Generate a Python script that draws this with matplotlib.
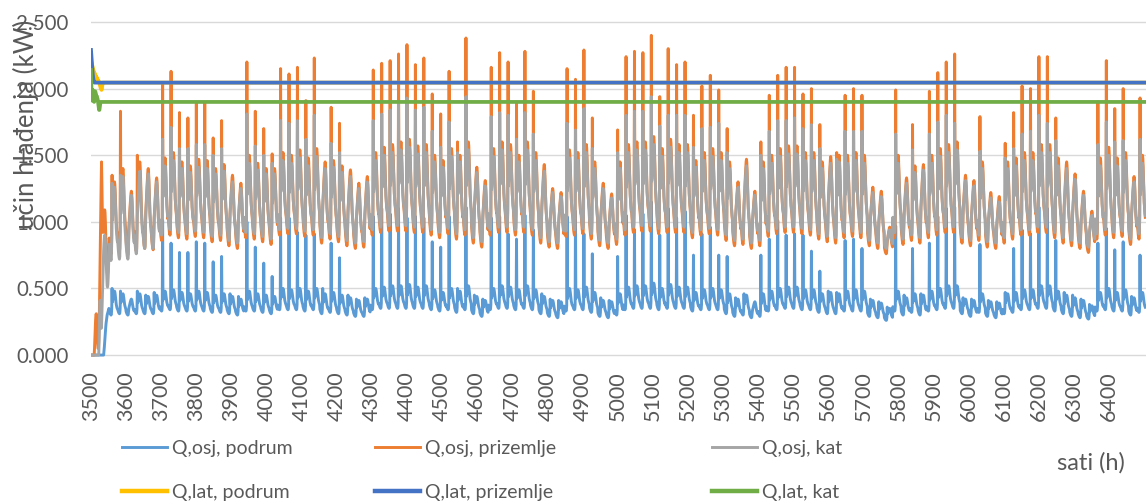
import matplotlib.pyplot as plt
import numpy as np

plt.rcParams['font.family'] = ['Lato', 'DejaVu Sans']

# hourly cooling load, starting at hour 3500 of the year
prvi_sat = 3500
sat_vrha = 8  # hour of day with the start-up peak

# start-up hours 3500-3551
pocetak_podrum = [0.0] * 37 + [0.03, 0.06, 0.10, 0.14, 0.18, 0.21, 0.24, 0.26,
                               0.28, 0.30, 0.31, 0.32, 0.33, 0.34, 0.35]
pocetak_prizemlje = [0.0] * 10 + [0.05, 0.12, 0.20, 0.26, 0.30, 0.31, 0.28, 0.20,
                                  0.12, 0.08, 0.05, 0.05, 0.10, 0.20, 0.35, 0.55,
                                  0.75, 0.95, 1.15, 1.30, 1.45, 1.30, 1.10, 0.95,
                                  0.92, 0.95, 1.00, 1.04, 1.07, 1.09, 1.07, 1.00,
                                  0.90, 0.80, 0.72, 0.66, 0.62, 0.60, 0.62, 0.66,
                                  0.72, 0.78]
pocetak_kat = [0.0] * 23 + [0.10, 0.25, 0.35, 0.41, 0.35, 0.25, 0.20, 0.22, 0.30,
                            0.40, 0.50, 0.60, 0.70, 0.78, 0.84, 0.88, 0.90, 0.89,
                            0.85, 0.78, 0.70, 0.62, 0.56, 0.52, 0.51, 0.53, 0.58,
                            0.66, 0.72]

# daily values from hour 3552 on (one value per day):
# vrh = daily maximum, dan = afternoon level, noc = night minimum
vrh_prizemlje = [
    1.35, 1.83, 1.23, 1.50, 1.40, 1.33, 2.03, 2.13, 1.82, 1.78, 1.89, 1.89, 1.63,
    1.76, 1.35, 1.29, 2.20, 1.83, 1.70, 1.51, 2.15, 2.11, 2.16, 1.91, 2.23, 1.45,
    1.86, 1.74, 1.39, 1.29, 1.34, 2.14, 2.19, 2.21, 2.26, 2.33, 2.18, 2.23, 1.96,
    1.81, 2.13, 1.60, 2.38, 1.41, 1.31, 2.16, 2.27, 2.20, 1.89, 2.28, 1.98, 1.43,
    1.25, 1.22, 2.15, 2.07, 2.29, 1.78, 1.29, 1.21, 1.69, 2.24, 2.28, 2.27, 2.40,
    1.94, 2.30, 2.18, 2.20, 1.80, 2.02, 2.10, 1.99, 1.70, 1.30, 1.47, 1.23, 1.60,
    1.95, 2.10, 2.16, 2.16, 1.96, 2.00, 1.73, 1.49, 1.52, 1.95, 2.00, 1.95, 1.26,
    1.23, 0.96, 1.99, 1.33, 1.73, 1.43, 1.98, 2.12, 2.20, 2.26, 1.35, 1.31, 1.79,
    1.22, 1.19, 1.59, 1.82, 2.02, 2.00, 2.24, 2.24, 1.78, 1.45, 1.36, 1.23, 1.08,
    1.90, 2.21, 1.85, 2.00, 1.34, 1.93]
dan_prizemlje = [
    1.30, 1.40, 1.25, 1.45, 1.40, 1.35, 1.48, 1.52, 1.45, 1.42, 1.47, 1.46, 1.40,
    1.43, 1.35, 1.30, 1.50, 1.44, 1.40, 1.40, 1.52, 1.50, 1.54, 1.48, 1.55, 1.45,
    1.46, 1.42, 1.39, 1.30, 1.34, 1.52, 1.56, 1.58, 1.60, 1.62, 1.57, 1.58, 1.50,
    1.46, 1.55, 1.50, 1.60, 1.41, 1.31, 1.55, 1.60, 1.58, 1.50, 1.60, 1.52, 1.43,
    1.25, 1.22, 1.54, 1.52, 1.58, 1.45, 1.29, 1.21, 1.45, 1.58, 1.60, 1.60, 1.64,
    1.55, 1.62, 1.58, 1.58, 1.46, 1.52, 1.55, 1.52, 1.45, 1.30, 1.47, 1.23, 1.45,
    1.50, 1.55, 1.57, 1.57, 1.52, 1.52, 1.45, 1.49, 1.50, 1.50, 1.52, 1.50, 1.26,
    1.23, 0.96, 1.50, 1.33, 1.42, 1.43, 1.50, 1.55, 1.58, 1.60, 1.35, 1.31, 1.45,
    1.22, 1.19, 1.45, 1.48, 1.52, 1.52, 1.58, 1.58, 1.48, 1.45, 1.36, 1.23, 1.08,
    1.48, 1.56, 1.48, 1.52, 1.34, 1.50]
noc_prizemlje = [
    0.76, 0.78, 0.75, 0.78, 0.80, 0.79, 0.86, 0.90, 0.88, 0.87, 0.89, 0.88, 0.85,
    0.86, 0.82, 0.80, 0.88, 0.87, 0.85, 0.83, 0.90, 0.91, 0.91, 0.89, 0.90, 0.84,
    0.87, 0.85, 0.82, 0.80, 0.81, 0.90, 0.92, 0.93, 0.93, 0.93, 0.92, 0.92, 0.90,
    0.88, 0.91, 0.87, 0.90, 0.84, 0.81, 0.90, 0.92, 0.92, 0.90, 0.92, 0.90, 0.84,
    0.81, 0.80, 0.89, 0.90, 0.91, 0.87, 0.82, 0.80, 0.83, 0.90, 0.92, 0.93, 0.93,
    0.91, 0.92, 0.92, 0.92, 0.88, 0.90, 0.91, 0.90, 0.86, 0.82, 0.83, 0.80, 0.82,
    0.89, 0.91, 0.92, 0.92, 0.91, 0.90, 0.87, 0.85, 0.84, 0.88, 0.89, 0.88, 0.82,
    0.80, 0.76, 0.88, 0.83, 0.86, 0.84, 0.88, 0.90, 0.92, 0.92, 0.84, 0.82, 0.86,
    0.81, 0.80, 0.84, 0.87, 0.90, 0.90, 0.92, 0.92, 0.88, 0.84, 0.82, 0.80, 0.77,
    0.87, 0.90, 0.88, 0.89, 0.83, 0.87]

vrh_kat = [
    1.29, 1.35, 1.20, 1.38, 1.36, 1.30, 1.62, 1.71, 1.55, 1.55, 1.58, 1.58, 1.50,
    1.55, 1.30, 1.25, 1.81, 1.57, 1.50, 1.44, 1.76, 1.74, 1.76, 1.62, 1.80, 1.40,
    1.59, 1.52, 1.34, 1.25, 1.30, 1.76, 1.81, 1.84, 1.90, 1.93, 1.84, 1.86, 1.68,
    1.56, 1.75, 1.52, 1.94, 1.37, 1.27, 1.79, 1.82, 1.80, 1.62, 1.82, 1.66, 1.38,
    1.22, 1.19, 1.74, 1.69, 1.85, 1.55, 1.25, 1.18, 1.52, 1.80, 1.83, 1.83, 1.94,
    1.72, 1.80, 1.80, 1.80, 1.56, 1.70, 1.71, 1.74, 1.52, 1.26, 1.42, 1.20, 1.50,
    1.68, 1.76, 1.76, 1.78, 1.70, 1.73, 1.55, 1.44, 1.47, 1.68, 1.68, 1.68, 1.22,
    1.19, 0.94, 1.66, 1.29, 1.54, 1.39, 1.66, 1.75, 1.80, 1.74, 1.31, 1.27, 1.53,
    1.18, 1.15, 1.48, 1.55, 1.66, 1.68, 1.80, 1.74, 1.61, 1.40, 1.32, 1.20, 1.05,
    1.58, 1.75, 1.60, 1.61, 1.30, 1.62]
dan_kat = [
    1.26, 1.34, 1.20, 1.38, 1.36, 1.30, 1.42, 1.46, 1.40, 1.37, 1.41, 1.40, 1.36,
    1.38, 1.30, 1.25, 1.44, 1.39, 1.36, 1.36, 1.46, 1.44, 1.48, 1.42, 1.49, 1.40,
    1.41, 1.37, 1.34, 1.25, 1.30, 1.46, 1.50, 1.52, 1.54, 1.56, 1.51, 1.52, 1.45,
    1.41, 1.49, 1.45, 1.54, 1.37, 1.27, 1.49, 1.54, 1.52, 1.45, 1.54, 1.46, 1.38,
    1.22, 1.19, 1.48, 1.46, 1.52, 1.40, 1.25, 1.18, 1.40, 1.52, 1.54, 1.54, 1.58,
    1.49, 1.56, 1.52, 1.52, 1.41, 1.46, 1.49, 1.46, 1.40, 1.26, 1.42, 1.20, 1.40,
    1.44, 1.49, 1.51, 1.51, 1.46, 1.46, 1.40, 1.44, 1.45, 1.44, 1.46, 1.44, 1.22,
    1.19, 0.94, 1.44, 1.29, 1.37, 1.39, 1.44, 1.49, 1.52, 1.54, 1.31, 1.27, 1.40,
    1.18, 1.15, 1.40, 1.42, 1.46, 1.46, 1.52, 1.52, 1.42, 1.40, 1.32, 1.20, 1.05,
    1.42, 1.50, 1.42, 1.46, 1.30, 1.44]
noc_kat = [
    0.71, 0.72, 0.72, 0.76, 0.80, 0.80, 0.90, 0.94, 0.92, 0.91, 0.93, 0.92, 0.89,
    0.90, 0.86, 0.84, 0.92, 0.91, 0.89, 0.87, 0.94, 0.95, 0.95, 0.93, 0.94, 0.88,
    0.91, 0.89, 0.86, 0.84, 0.85, 0.94, 0.96, 0.97, 0.97, 0.97, 0.96, 0.96, 0.94,
    0.92, 0.95, 0.91, 0.94, 0.88, 0.85, 0.94, 0.96, 0.96, 0.94, 0.96, 0.94, 0.88,
    0.85, 0.84, 0.93, 0.94, 0.95, 0.91, 0.86, 0.84, 0.87, 0.94, 0.96, 0.97, 0.97,
    0.95, 0.96, 0.96, 0.96, 0.92, 0.94, 0.95, 0.94, 0.90, 0.86, 0.87, 0.84, 0.86,
    0.93, 0.95, 0.96, 0.96, 0.95, 0.94, 0.91, 0.89, 0.88, 0.92, 0.93, 0.92, 0.86,
    0.84, 0.80, 0.92, 0.87, 0.90, 0.88, 0.92, 0.94, 0.96, 0.96, 0.88, 0.86, 0.90,
    0.85, 0.84, 0.88, 0.91, 0.94, 0.94, 0.96, 0.96, 0.92, 0.88, 0.86, 0.84, 0.81,
    0.91, 0.94, 0.92, 0.93, 0.87, 0.91]

vrh_podrum = [
    0.50, 0.48, 0.42, 0.48, 0.45, 0.47, 1.01, 0.84, 0.77, 0.77, 0.85, 0.84, 0.70,
    0.74, 0.46, 0.44, 1.00, 0.81, 0.69, 0.59, 1.03, 1.03, 0.92, 0.90, 0.91, 0.50,
    0.84, 0.73, 0.45, 0.42, 0.43, 1.04, 1.10, 1.06, 1.10, 1.03, 1.04, 1.03, 0.85,
    0.81, 1.04, 0.50, 1.11, 0.45, 0.42, 1.03, 1.04, 0.91, 0.87, 1.05, 0.94, 0.46,
    0.42, 0.41, 1.04, 1.08, 0.91, 0.76, 0.43, 0.41, 0.74, 1.05, 0.94, 1.06, 1.15,
    0.90, 1.10, 1.03, 1.08, 0.75, 0.91, 0.96, 0.75, 0.74, 0.43, 0.46, 0.40, 0.75,
    0.87, 1.01, 0.90, 0.91, 0.90, 0.78, 0.63, 0.48, 0.47, 0.86, 0.87, 0.80, 0.42,
    0.40, 0.36, 0.97, 0.45, 0.80, 0.46, 0.84, 1.04, 1.10, 1.11, 0.43, 0.42, 0.83,
    0.41, 0.40, 0.47, 0.80, 0.94, 0.91, 1.11, 1.10, 0.86, 0.47, 0.45, 0.42, 0.38,
    0.84, 0.95, 0.79, 0.85, 0.44, 0.75]
dan_podrum = [
    0.48, 0.46, 0.42, 0.46, 0.44, 0.45, 0.48, 0.49, 0.47, 0.46, 0.48, 0.47, 0.45,
    0.46, 0.44, 0.42, 0.48, 0.46, 0.45, 0.44, 0.50, 0.49, 0.50, 0.48, 0.50, 0.46,
    0.47, 0.45, 0.43, 0.41, 0.42, 0.50, 0.51, 0.52, 0.52, 0.53, 0.51, 0.52, 0.49,
    0.47, 0.50, 0.48, 0.52, 0.44, 0.41, 0.50, 0.52, 0.51, 0.49, 0.52, 0.49, 0.44,
    0.41, 0.40, 0.50, 0.49, 0.51, 0.47, 0.41, 0.40, 0.46, 0.51, 0.52, 0.52, 0.54,
    0.50, 0.53, 0.51, 0.51, 0.47, 0.49, 0.50, 0.49, 0.46, 0.42, 0.45, 0.40, 0.46,
    0.48, 0.50, 0.51, 0.51, 0.49, 0.49, 0.46, 0.47, 0.46, 0.48, 0.49, 0.48, 0.41,
    0.39, 0.35, 0.48, 0.43, 0.46, 0.45, 0.48, 0.50, 0.52, 0.52, 0.42, 0.41, 0.46,
    0.40, 0.39, 0.46, 0.47, 0.49, 0.49, 0.52, 0.52, 0.48, 0.45, 0.43, 0.41, 0.37,
    0.47, 0.50, 0.47, 0.49, 0.43, 0.47]
noc_podrum = [
    0.30, 0.31, 0.30, 0.31, 0.31, 0.31, 0.33, 0.34, 0.33, 0.33, 0.33, 0.33, 0.32,
    0.32, 0.31, 0.30, 0.33, 0.33, 0.32, 0.31, 0.34, 0.34, 0.34, 0.33, 0.34, 0.31,
    0.32, 0.31, 0.30, 0.29, 0.29, 0.34, 0.35, 0.35, 0.35, 0.35, 0.35, 0.35, 0.34,
    0.33, 0.34, 0.32, 0.34, 0.31, 0.29, 0.34, 0.35, 0.35, 0.34, 0.35, 0.34, 0.31,
    0.29, 0.28, 0.33, 0.34, 0.34, 0.32, 0.29, 0.28, 0.30, 0.34, 0.35, 0.35, 0.35,
    0.34, 0.35, 0.35, 0.35, 0.33, 0.34, 0.34, 0.34, 0.31, 0.29, 0.30, 0.28, 0.29,
    0.33, 0.34, 0.35, 0.35, 0.34, 0.34, 0.32, 0.31, 0.31, 0.33, 0.33, 0.33, 0.29,
    0.28, 0.26, 0.33, 0.30, 0.32, 0.30, 0.33, 0.34, 0.35, 0.35, 0.31, 0.29, 0.32,
    0.29, 0.28, 0.31, 0.32, 0.34, 0.34, 0.35, 0.35, 0.33, 0.31, 0.29, 0.28, 0.27,
    0.33, 0.34, 0.33, 0.33, 0.30, 0.32]

# daily shape between night and afternoon level, hours 0-23
profil = [0.22, 0.15, 0.10, 0.05, 0.02, 0.00, 0.03, 0.25, 0.45, 0.55, 0.62, 0.72,
          0.82, 0.90, 0.97, 1.00, 0.96, 0.85, 0.70, 0.55, 0.44, 0.36, 0.30, 0.26]

# latent load
pocetak_lat_podrum = [2.21, 2.20, 2.19, 2.18, 2.17, 2.16, 2.15, 2.14, 2.13, 2.12,
                      2.12, 2.11, 2.10, 2.10, 2.09, 2.09, 2.08, 2.08, 2.07, 2.07,
                      2.06, 2.06, 2.05, 2.05, 2.04, 2.03, 2.02, 2.01, 2.00, 2.00,
                      1.99, 2.00, 2.02, 2.04]
pocetak_lat_prizemlje = [2.29, 2.25, 2.21, 2.17, 2.14, 2.11, 2.09, 2.07, 2.06, 2.05]
pocetak_lat_kat = [2.14, 2.02, 1.93, 1.91, 1.96, 1.99, 1.95, 1.92, 1.93, 1.90,
                   1.91, 1.95, 1.98, 1.97, 1.96, 1.95, 1.94, 1.94, 1.93, 1.92,
                   1.90, 1.88, 1.86, 1.84, 1.84, 1.86, 1.88, 1.90]
lat_podrum, lat_prizemlje, lat_kat = 2.045, 2.045, 1.90


def satni_niz(pocetak, vrhovi, dani, noci):
    niz = list(pocetak)
    for vrh, dan, noc in zip(vrhovi, dani, noci):
        razina = min(vrh, dan)
        for sat, udio in enumerate(profil):
            if sat == sat_vrha and vrh > dan:
                niz.append(vrh)
            else:
                niz.append(noc + udio * (razina - noc))
    return np.array(niz)


def lat_niz(pocetak, razina, n):
    return np.array(list(pocetak) + [razina] * (n - len(pocetak)))


q_podrum = satni_niz(pocetak_podrum, vrh_podrum, dan_podrum, noc_podrum)
q_prizemlje = satni_niz(pocetak_prizemlje, vrh_prizemlje, dan_prizemlje, noc_prizemlje)
q_kat = satni_niz(pocetak_kat, vrh_kat, dan_kat, noc_kat)
n = len(q_kat)
sati = np.arange(prvi_sat, prvi_sat + n)

fig = plt.figure(figsize=(11.46, 5.01), dpi=100)
ax = fig.add_axes([91 / 1146, 0.286, 1 - 91 / 1146, 0.6754])

l1, = ax.plot(sati, q_podrum, color='#5B9BD5', lw=2.1, label='Q,osj, podrum')
l2, = ax.plot(sati, q_prizemlje, color='#ED7D31', lw=2.1, label='Q,osj, prizemlje')
l3, = ax.plot(sati, q_kat, color='#A5A5A5', lw=2.1, label='Q,osj, kat')
l4, = ax.plot(sati, lat_niz(pocetak_lat_podrum, lat_podrum, n), color='#FFC000',
              lw=2.7, label='Q,lat, podrum')
l5, = ax.plot(sati, lat_niz(pocetak_lat_prizemlje, lat_prizemlje, n), color='#4472C4',
              lw=2.7, label='Q,lat, prizemlje')
l6, = ax.plot(sati, lat_niz(pocetak_lat_kat, lat_kat, n), color='#70AD47',
              lw=2.7, label='Q,lat, kat')
for l in (l1, l2, l3, l4, l5, l6):
    l.set_solid_joinstyle('round')

ax.set_xlim(3500, 6505)
ax.set_ylim(-0.02, 2.52)
ax.set_xticks(np.arange(3500, 6401, 100))
ax.set_xticklabels([str(t) for t in range(3500, 6401, 100)], rotation=90)
ax.set_yticks(np.arange(0, 2.51, 0.5))
ax.set_yticklabels(['%.3f' % t for t in np.arange(0, 2.51, 0.5)])
ax.tick_params(axis='x', length=0, pad=10, labelsize=15.5, labelcolor='#595959')
ax.tick_params(axis='y', length=0, pad=16, labelsize=14.8, labelcolor='#595959')
ax.grid(axis='y', color='#D9D9D9', lw=1.0)
ax.set_axisbelow(True)
for s in ax.spines.values():
    s.set_visible(False)

fig.text(0.023, 1 - 124 / 501, 'učin hlađenja (kW)', rotation=90, ha='center',
         va='center', fontsize=18.5, color='#595959')
fig.text(1091 / 1146, 1 - 463 / 501, 'sati (h)', ha='center', va='center',
         fontsize=17, color='#595959')

# legend: three columns of two entries each
stupci = [(l1, l4, 122), (l2, l5, 375), (l3, l6, 712)]
for gore, dolje, x in stupci:
    leg = fig.legend(handles=[gore, dolje], loc='upper left',
                     bbox_to_anchor=(x / 1146, 0.122), frameon=False, fontsize=14,
                     handlelength=2.3, handletextpad=0.26, labelspacing=1.41,
                     borderpad=0, borderaxespad=0)
    for t in leg.get_texts():
        t.set_color('#595959')
    leg.get_lines()[0].set_linewidth(2.1)
    leg.get_lines()[1].set_linewidth(3.2)

fig.savefig('out.png', dpi=100)
